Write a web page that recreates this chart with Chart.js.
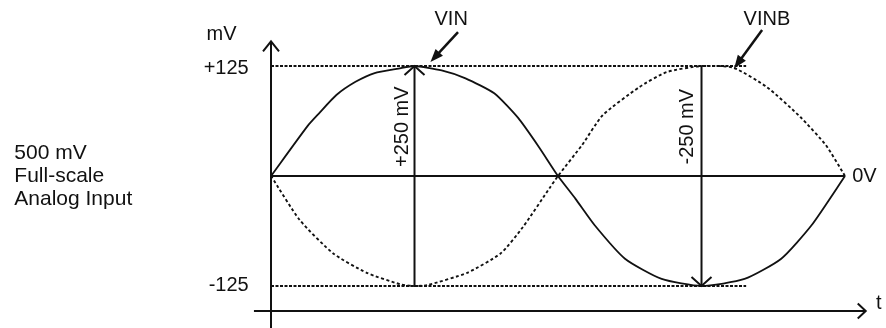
<!DOCTYPE html>
<html>
<head>
<meta charset="utf-8">
<script src="https://cdn.jsdelivr.net/npm/chart.js@4/dist/chart.umd.min.js"></script>
<style>
html, body { margin: 0; padding: 0; background: #fff; }
#wrap { width: 886px; height: 328px; }
</style>
</head>
<body>
<div id="wrap"><canvas id="scope" width="886" height="328"></canvas></div>
<script>
// phase in degrees, amplitude in mV
const vinPhase = [0, 23, 30, 41, 53, 65, 80, 90, 107, 122, 140, 155, 168, 180, 191, 203, 222, 245, 270, 297, 320, 339, 360];
const vinMv    = [0, 57, 71, 92, 107, 117, 122, 125, 120, 111, 94, 66, 33, 0, -26, -56, -94, -117, -125, -117, -94, -56, 0];

const vinbPhase = [0, 18, 39, 60, 81, 90, 98, 123, 144, 158, 175, 180, 195, 208, 231, 248, 270, 290, 311, 332, 348, 360];
const vinbMv    = [0, -50, -88, -110, -123, -125, -124, -110, -88, -58, -13, 0, 35, 69, 101, 118, 125, 123, 101, 67, 35, 0];

const levelMv = [125, -125];
const levelLabels = ['+125', '-125'];
const levelEnd = 298;

const spanPhase = [90, 270];
const spanLabels = ['+250 mV', '-250 mV'];

const INK = '#111';
const FONT = '20px "Liberation Sans", Arial, Helvetica, sans-serif';
const SIDE_FONT = '21px "Liberation Sans", Arial, Helvetica, sans-serif';

function pts(xs, ys) {
    return xs.map((x, i) => ({ x: x, y: ys[i] }));
}

function line(data, width, dash) {
    return {
        data: data,
        showLine: true,
        borderColor: INK,
        borderWidth: width,
        borderDash: dash || [],
        pointRadius: 0,
        tension: 0,
        fill: false
    };
}

const datasets = [];
const vinSet = line(pts(vinPhase, vinMv), 1.8);
vinSet.tension = 0.2;
datasets.push(vinSet);
const vinbSet = line(pts(vinbPhase, vinbMv), 1.9, [3, 2.5]);
vinbSet.tension = 0.2;
datasets.push(vinbSet);
levelMv.forEach(mv => {
    datasets.push(line([{ x: 0, y: mv }, { x: levelEnd, y: mv }], 2, [3, 1.5]));
});
datasets.push(line([{ x: 0, y: 0 }, { x: 360, y: 0 }], 2));
spanPhase.forEach(ph => {
    datasets.push(line([{ x: ph, y: -125 }, { x: ph, y: 125 }], 2));
});

// axes, arrow heads and text, placed in data units
const diagram = {
    id: 'diagram',
    afterDatasetsDraw(chart) {
        const ctx = chart.ctx;
        const sx = chart.scales.x, sy = chart.scales.y;
        const px = v => sx.getPixelForValue(v);
        const py = v => sy.getPixelForValue(v);

        ctx.save();
        ctx.strokeStyle = INK;
        ctx.fillStyle = INK;
        ctx.lineWidth = 2;
        ctx.lineCap = 'butt';

        function seg(x1, y1, x2, y2) {
            ctx.beginPath();
            ctx.moveTo(x1, y1);
            ctx.lineTo(x2, y2);
            ctx.stroke();
        }
        function chevron(x, y, dx, dy, len, half) {
            // open arrow head pointing along (dx, dy)
            const nx = -dy, ny = dx;
            ctx.beginPath();
            ctx.moveTo(x - dx * len + nx * half, y - dy * len + ny * half);
            ctx.lineTo(x, y);
            ctx.lineTo(x - dx * len - nx * half, y - dy * len - ny * half);
            ctx.stroke();
        }
        function callout(x1, y1, x2, y2) {
            const L = Math.hypot(x2 - x1, y2 - y1);
            const dx = (x2 - x1) / L, dy = (y2 - y1) / L;
            ctx.lineWidth = 2.5;
            seg(x1, y1, x2 - dx * 8, y2 - dy * 8);
            const nx = -dy, ny = dx;
            ctx.beginPath();
            ctx.moveTo(x2, y2);
            ctx.lineTo(x2 - dx * 13 + nx * 5, y2 - dy * 13 + ny * 5);
            ctx.lineTo(x2 - dx * 13 - nx * 5, y2 - dy * 13 - ny * 5);
            ctx.closePath();
            ctx.fill();
            ctx.lineWidth = 2;
        }

        // vertical mV axis
        seg(px(0), py(-173), px(0), py(153));
        chevron(px(0), py(153), 0, -1, 10, 8);
        // time axis
        seg(px(-10.7), py(-153.4), px(373), py(-153.4));
        chevron(px(373), py(-153.4), 1, 0, 8, 7.5);

        // span arrows
        chevron(px(spanPhase[0]), py(125), 0, -1, 9, 10);
        chevron(px(spanPhase[1]), py(-125), 0, 1, 9, 10);

        // callouts
        callout(px(117.3), py(163.6), px(100), py(129.5));
        callout(px(308), py(165.9), px(290.5), py(122.5));

        ctx.font = FONT;
        ctx.textBaseline = 'middle';

        ctx.textAlign = 'right';
        levelLabels.forEach((t, i) => {
            ctx.fillText(t, px(-14), py(levelMv[i]) + (i === 0 ? 2 : -1));
        });

        ctx.textAlign = 'center';
        ctx.fillText('mV', px(-31), py(161));
        ctx.fillText('VIN', px(113), py(178));
        ctx.fillText('VINB', px(311), py(178));

        ctx.textAlign = 'left';
        ctx.fillText('0V', px(364.5), py(0));
        ctx.fillText('t', px(379.5), py(-145));

        ctx.font = SIDE_FONT;
        const leftX = px(-161);
        ctx.fillText('500 mV', leftX, py(26));
        ctx.fillText('Full-scale', leftX, py(0));
        ctx.fillText('Analog Input', leftX, py(-26));

        // rotated span labels
        ctx.font = FONT;
        [[spanLabels[0], px(spanPhase[0]) - 12], [spanLabels[1], px(spanPhase[1]) - 14]].forEach(([t, x]) => {
            ctx.save();
            ctx.translate(x, py(56));
            ctx.rotate(-Math.PI / 2);
            ctx.textAlign = 'center';
            ctx.fillText(t, 0, 0);
            ctx.restore();
        });

        ctx.restore();
    }
};

new Chart(document.getElementById('scope').getContext('2d'), {
    type: 'scatter',
    data: { datasets: datasets },
    options: {
        responsive: false,
        animation: false,
        layout: { padding: 0 },
        plugins: { legend: { display: false }, tooltip: { enabled: false } },
        scales: {
            x: { type: 'linear', min: -169.97, max: 385.71, display: false },
            y: { type: 'linear', min: -172.73, max: 200, display: false }
        }
    },
    plugins: [diagram]
});
</script>
</body>
</html>
